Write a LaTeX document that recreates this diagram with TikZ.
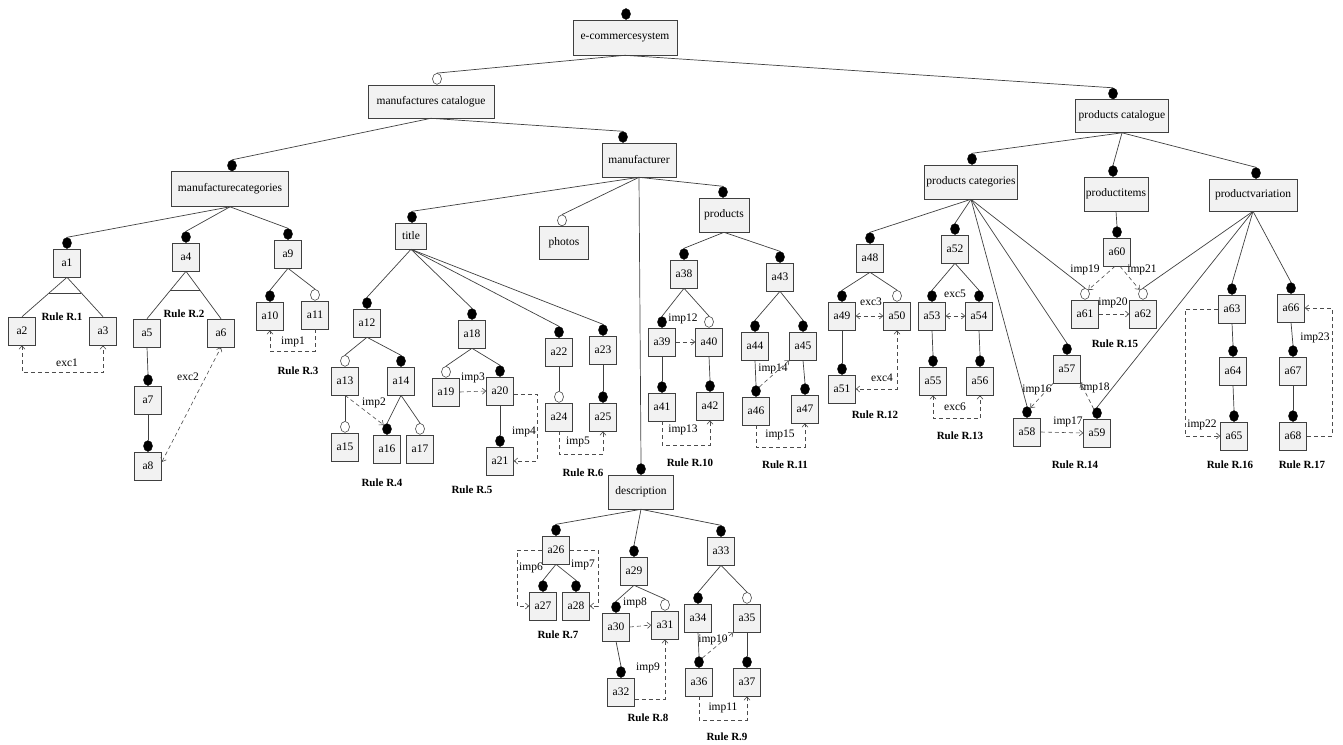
\documentclass[tikz,border=0pt]{standalone}
\usepackage{fontspec}
\setmainfont{Liberation Serif}
\usetikzlibrary{shapes.geometric,arrows.meta,calc}
\tikzset{
  fbox/.style={draw=black!75, fill=black!5, line width=0.6pt, inner sep=1pt, font=\fontsize{11.5}{13}\selectfont},
  abox/.style={fbox, minimum width=27pt, minimum height=28pt},
  mdot/.style={ellipse, fill=black, draw=black, line width=0.4pt, minimum width=9pt, minimum height=11pt, inner sep=0pt},
  odot/.style={ellipse, fill=white, draw=black!70, line width=0.6pt, minimum width=9pt, minimum height=11pt, inner sep=0pt},
  tree/.style={draw=black!75, line width=0.7pt},
  dep/.style={draw=black!70, dash pattern=on 4pt off 3pt, line width=0.6pt},
  lab/.style={inner sep=0pt, font=\fontsize{11.5}{13}\selectfont},
  rulelab/.style={inner sep=0pt, font=\fontsize{11}{13}\selectfont\bfseries},
  >={Straight Barb[length=3.5pt,width=6pt]}
}
\newcommand\bnode[8]{%
  \node[fbox,minimum width=#4pt,minimum height=#5pt] (#1) at (#2,#3) {#6};
  \node[#7,anchor=south] (#1c) at ([xshift=#8pt]#1.north) {};}
\newcommand\anode[4]{%
  \node[abox] (#1) at (#2,#3) {#1};
  \node[#4,anchor=south] (#1c) at (#1.north) {};}
\newcommand\pnode[3]{\node[abox] (#1) at (#2,#3) {#1};}
\begin{document}
\begin{tikzpicture}[x=1pt,y=-1pt]
\useasboundingbox (0,0) rectangle (1343,744);
% ---------- big features
\bnode{root}{625}{37.5}{104}{35}{e-commercesystem}{mdot}{1}
\bnode{mcat}{431}{101.5}{126}{33}{manufactures catalogue}{odot}{6}
\bnode{mcats}{230}{189}{117}{35}{manufacturecategories}{mdot}{2}
\bnode{manu}{639}{160}{74}{34}{manufacturer}{mdot}{-16}
\bnode{title}{411}{236}{31}{26}{title}{mdot}{1}
\bnode{photos}{564}{243}{49}{33}{photos}{odot}{-2}
\bnode{prods}{724}{215}{50}{34}{products}{mdot}{-1}
\bnode{descr}{641}{492}{65}{34}{description}{mdot}{0}
\bnode{pcat}{1122}{116}{93}{33}{products catalogue}{mdot}{-9}
\bnode{pcats}{971}{182}{93}{34}{products categories}{mdot}{1}
\bnode{pitems}{1116}{194}{64}{34}{productitems}{mdot}{-3}
\bnode{pvar}{1253}{195}{88}{32}{productvariation}{mdot}{3}
% ---------- leaf features
\anode{a1}{67}{263}{mdot}
\pnode{a2}{22}{331}
\pnode{a3}{103}{331}
\anode{a4}{186}{257}{mdot}
\pnode{a5}{147}{333}
\pnode{a6}{221}{333}
\anode{a7}{148}{400}{mdot}
\anode{a8}{148}{466}{mdot}
\anode{a9}{288}{254}{mdot}
\anode{a10}{270}{316}{mdot}
\anode{a11}{315}{315}{odot}
\anode{a12}{367}{323}{mdot}
\anode{a13}{345}{381}{odot}
\anode{a14}{401}{381}{mdot}
\anode{a15}{345}{447}{odot}
\anode{a16}{387}{449}{mdot}
\anode{a17}{420}{449}{odot}
\anode{a18}{472}{334}{mdot}
\anode{a19}{446}{392}{odot}
\anode{a20}{500}{391}{mdot}
\anode{a21}{500}{461}{mdot}
\anode{a22}{559}{352}{mdot}
\anode{a23}{603}{350}{mdot}
\anode{a24}{559}{417}{odot}
\anode{a25}{603}{417}{mdot}
\anode{a26}{556}{550}{mdot}
\anode{a27}{543}{606}{mdot}
\anode{a28}{576}{606}{mdot}
\anode{a29}{634}{571}{mdot}
\anode{a30}{616}{627}{mdot}
\anode{a31}{665}{625}{odot}
\anode{a32}{621}{692}{mdot}
\anode{a33}{721}{551}{mdot}
\anode{a34}{698}{618}{mdot}
\anode{a35}{747}{618}{odot}
\anode{a36}{699}{682}{mdot}
\anode{a37}{747}{682}{mdot}
\anode{a38}{684}{274}{mdot}
\anode{a39}{662}{342}{mdot}
\anode{a40}{709}{342}{odot}
\anode{a41}{662}{407}{mdot}
\anode{a42}{710}{406}{mdot}
\anode{a43}{780}{277}{mdot}
\anode{a44}{755}{346}{mdot}
\anode{a45}{803}{346}{mdot}
\anode{a46}{756}{411}{mdot}
\anode{a47}{805}{409}{mdot}
\anode{a48}{870}{258}{mdot}
\anode{a49}{842}{316}{mdot}
\anode{a50}{897}{316}{odot}
\anode{a51}{842}{389}{mdot}
\anode{a52}{955}{249}{mdot}
\anode{a53}{932}{316}{mdot}
\anode{a54}{979}{316}{mdot}
\anode{a55}{933}{381}{mdot}
\anode{a56}{980}{381}{mdot}
\anode{a57}{1067}{369}{mdot}
\anode{a58}{1027}{432}{mdot}
\anode{a59}{1097}{433}{mdot}
\anode{a60}{1117}{252}{mdot}
\anode{a61}{1085}{314}{odot}
\anode{a62}{1143}{314}{odot}
\anode{a63}{1232}{309}{mdot}
\anode{a64}{1233}{371}{mdot}
\anode{a65}{1234}{436}{mdot}
\anode{a66}{1291}{308}{mdot}
\anode{a67}{1293}{371}{mdot}
\anode{a68}{1293}{436}{mdot}
% ---------- tree edges
\draw[tree] (root.south) -- (mcatc.north);
\draw[tree] (root.south) -- (pcatc.north);
\draw[tree] (mcat.south) -- (mcatsc.north);
\draw[tree] (mcat.south) -- (manuc.north);
\foreach \c in {a1,a4,a9} \draw[tree] (mcats.south) -- (\c c.north);
\draw[tree] (a1.south) -- (a2.north);
\draw[tree] (a1.south) -- (a3.north);
\draw[tree] ($(a1.south)!0.4!(a2.north)$) -- ($(a1.south)!0.4!(a3.north)$);
\draw[tree] (a4.south) -- (a5.north);
\draw[tree] (a4.south) -- (a6.north);
\draw[tree] ($(a4.south)!0.4!(a5.north)$) -- ($(a4.south)!0.4!(a6.north)$);
\draw[tree] (a5.south) -- (a7c.north);
\draw[tree] (a7.south) -- (a8c.north);
\draw[tree] (a9.south) -- (a10c.north);
\draw[tree] (a9.south) -- (a11c.north);
\foreach \c in {title,photos,descr,prods} \draw[tree] (manu.south) -- (\c c.north);
\foreach \c in {a12,a18,a22,a23} \draw[tree] (title.south) -- (\c c.north);
\draw[tree] (a12.south) -- (a13c.north);
\draw[tree] (a12.south) -- (a14c.north);
\draw[tree] (a13.south) -- (a15c.north);
\draw[tree] (a14.south) -- (a16c.north);
\draw[tree] (a14.south) -- (a17c.north);
\draw[tree] (a18.south) -- (a19c.north);
\draw[tree] (a18.south) -- (a20c.north);
\draw[tree] (a20.south) -- (a21c.north);
\draw[tree] (a22.south) -- (a24c.north);
\draw[tree] (a23.south) -- (a25c.north);
\foreach \c in {a26,a29,a33} \draw[tree] (descr.south) -- (\c c.north);
\draw[tree] (a26.south) -- (a27c.north);
\draw[tree] (a26.south) -- (a28c.north);
\draw[tree] (a29.south) -- (a30c.north);
\draw[tree] (a29.south) -- (a31c.north);
\draw[tree] (a30.south) -- (a32c.north);
\draw[tree] (a33.south) -- (a34c.north);
\draw[tree] (a33.south) -- (a35c.north);
\draw[tree] (a34.south) -- (a36c.north);
\draw[tree] (a35.south) -- (a37c.north);
\draw[tree] (prods.south) -- (a38c.north);
\draw[tree] (prods.south) -- (a43c.north);
\draw[tree] (a38.south) -- (a39c.north);
\draw[tree] (a38.south) -- (a40c.north);
\draw[tree] (a39.south) -- (a41c.north);
\draw[tree] (a40.south) -- (a42c.north);
\draw[tree] (a43.south) -- (a44c.north);
\draw[tree] (a43.south) -- (a45c.north);
\draw[tree] (a44.south) -- (a46c.north);
\draw[tree] (a45.south) -- (a47c.north);
\foreach \c in {pcats,pitems,pvar} \draw[tree] (pcat.south) -- (\c c.north);
\foreach \c in {a48,a52,a58,a57,a61} \draw[tree] (pcats.south) -- (\c c.north);
\draw[tree] (a48.south) -- (a49c.north);
\draw[tree] (a48.south) -- (a50c.north);
\draw[tree] (a49.south) -- (a51c.north);
\draw[tree] (a52.south) -- (a53c.north);
\draw[tree] (a52.south) -- (a54c.north);
\draw[tree] (a53.south) -- (a55c.north);
\draw[tree] (a54.south) -- (a56c.north);
\draw[tree] (pitems.south) -- (a60c.north);
\foreach \c in {a62,a59,a63,a66} \draw[tree] (pvar.south) -- (\c c.north);
\draw[tree] (a63.south) -- (a64c.north);
\draw[tree] (a64.south) -- (a65c.north);
\draw[tree] (a66.south) -- (a67c.north);
\draw[tree] (a67.south) -- (a68c.north);
% ---------- cross-tree constraints
\draw[dep,<->] (a2.south) -- ++(0,27) -| (a3.south);
\draw[dep,<->] ([yshift=4pt]a8.east) -- (a6.south);
\draw[dep,->] (a11.south) -- ++(0,22) -| (a10.south);
\draw[dep,->] (a13.south) -- (a16c.north west);
\draw[dep,->] (a19.east) -- (a20.west);
\draw[dep,->] ([yshift=-3pt]a20.east) -- ++(23,0) |- (a21.east);
\draw[dep,->] (a24.south) -- ++(0,23) -| (a25.south);
\draw[dep,->] (a26.west) -- ++(-25,0) |- (a27.west);
\draw[dep,->] (a26.east) -- ++(28,0) |- (a28.east);
\draw[dep,->] (a30.east) -- (a31.west);
\draw[dep,->] ([yshift=-7pt]a32.east) -| (a31.south);
\draw[dep,->] (a36c.north east) -- (a35.south west);
\draw[dep,->] (a36.south) -- ++(0,24) -| (a37.south);
\draw[dep,->] (a39.east) -- (a40.west);
\draw[dep,->] (a41.south) -- ++(0,24) -| (a42.south);
\draw[dep,->] (a46c.north east) -- (a45.south west);
\draw[dep,->] (a46.south) -- ++(0,22) -| (a47.south);
\draw[dep,<->] (a49.east) -- (a50.west);
\draw[dep,<->] (a50.south) |- (a51.east);
\draw[dep,<->] (a53.east) -- (a54.west);
\draw[dep,<->] (a55.south) -- ++(0,23) -| (a56.south);
\draw[dep,->] (a57.south west) -- (a58c.north east);
\draw[dep,->] (a58.east) -- (a59.west);
\draw[dep,->] (a59c.north west) -- (a57.south east);
\draw[dep,->] ([xshift=-2pt]a60.south) -- (a61c.north east);
\draw[dep,->] ([xshift=3pt]a60.south) -- (a62c.north west);
\draw[dep,->] (a61.east) -- (a62.west);
\draw[dep,->] (a63.west) -- ++(-33,0) |- (a65.west);
\draw[dep,->] (a68.east) -- ++(25,0) |- (a66.east);
% ---------- constraint labels
\node[lab] (lexc1) at (67,363) {exc1};
\node[lab] (lexc2) at (188,377) {exc2};
\node[lab] (limp1) at (293,342) {imp1};
\node[lab] (limp2) at (374,403) {imp2};
\node[lab] (limp3) at (473,378) {imp3};
\node[lab] (limp4) at (524,432) {imp4};
\node[lab] (limp5) at (578,442) {imp5};
\node[lab] (limp6) at (531,568) {imp6};
\node[lab] (limp7) at (583,565) {imp7};
\node[lab] (limp8) at (635,603) {imp8};
\node[lab] (limp9) at (648,668) {imp9};
\node[lab] (limp10) at (713,640) {imp10};
\node[lab] (limp11) at (723,708) {imp11};
\node[lab] (limp12) at (683,319) {imp12};
\node[lab] (limp13) at (683,430) {imp13};
\node[lab] (limp14) at (773,369) {imp14};
\node[lab] (limp15) at (780,435) {imp15};
\node[lab] (lexc3) at (871,302) {exc3};
\node[lab] (lexc4) at (882,378) {exc4};
\node[lab] (lexc5) at (955,294) {exc5};
\node[lab] (lexc6) at (955,407) {exc6};
\node[lab] (limp16) at (1037,390) {imp16};
\node[lab] (limp17) at (1068,422) {imp17};
\node[lab] (limp18) at (1095,388) {imp18};
\node[lab] (limp19) at (1085,270) {imp19};
\node[lab] (limp20) at (1113,303) {imp20};
\node[lab] (limp21) at (1142,270) {imp21};
\node[lab] (limp22) at (1202,425) {imp22};
\node[lab] (limp23) at (1315,338) {imp23};
% ---------- rule labels
\node[rulelab] (r1) at (62,317) {Rule R.1};
\node[rulelab] (r2) at (184,314) {Rule R.2};
\node[rulelab] (r3) at (298,371) {Rule R.3};
\node[rulelab] (r4) at (382,483) {Rule R.4};
\node[rulelab] (r5) at (472,490) {Rule R.5};
\node[rulelab] (r6) at (583,473) {Rule R.6};
\node[rulelab] (r7) at (558,635) {Rule R.7};
\node[rulelab] (r8) at (648,718) {Rule R.8};
\node[rulelab] (r9) at (727,737) {Rule R.9};
\node[rulelab] (r10) at (690,463) {Rule R.10};
\node[rulelab] (r11) at (785,465) {Rule R.11};
\node[rulelab] (r12) at (875,415) {Rule R.12};
\node[rulelab] (r13) at (960,436) {Rule R.13};
\node[rulelab] (r14) at (1075,465) {Rule R.14};
\node[rulelab] (r15) at (1115,344) {Rule R.15};
\node[rulelab] (r16) at (1230,465) {Rule R.16};
\node[rulelab] (r17) at (1302,465) {Rule R.17};
\end{tikzpicture}
\end{document}
